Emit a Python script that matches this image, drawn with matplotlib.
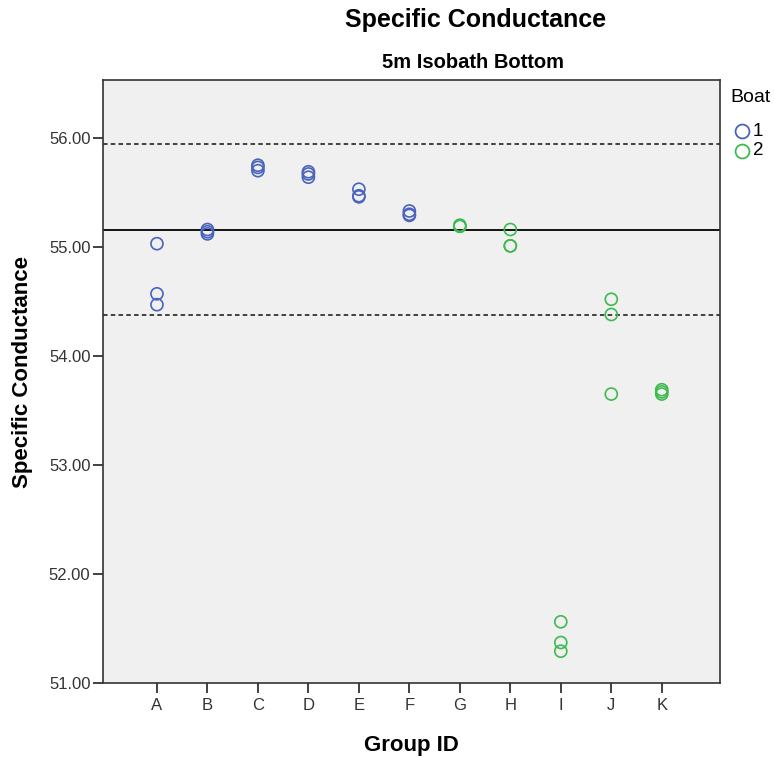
import numpy as np
import matplotlib.pyplot as plt
from matplotlib.lines import Line2D

plt.rcParams['font.family'] = ['Liberation Sans', 'DejaVu Sans']

# Specific conductance readings by sampling group, 5 m isobath bottom
groups = ['A', 'B', 'C', 'D', 'E', 'F', 'G', 'H', 'I', 'J', 'K']
boat = [1, 1, 1, 1, 1, 1, 2, 2, 2, 2, 2]
readings = [
    [55.03, 54.57, 54.47],
    [55.16, 55.14, 55.12],
    [55.75, 55.73, 55.70],
    [55.69, 55.67, 55.64],
    [55.53, 55.47, 55.46],
    [55.33, 55.30, 55.29],
    [55.20, 55.19, 55.19],
    [55.16, 55.01, 55.01],
    [51.56, 51.37, 51.29],
    [54.52, 54.38, 53.65],
    [53.69, 53.67, 53.65],
]
center_line = 55.155
upper_limit = 55.945
lower_limit = 54.375

boat_colors = {1: '#4a63bd', 2: '#3dbb4f'}
yticks = [51, 52, 53, 54, 55, 56]

W, H = 774, 757
fig = plt.figure(figsize=(W / 100, H / 100), dpi=100)
ax = fig.add_axes([0.133, 0.098, 0.797, 0.796])
ax.set_facecolor('#f0f0f0')

for i, (vals, b) in enumerate(zip(readings, boat)):
    ax.scatter([i] * len(vals), vals, s=75, facecolors='none',
               edgecolors=boat_colors[b], linewidths=1.2, zorder=3)

ax.axhline(center_line, color='black', lw=1.3, zorder=2)
ax.axhline(upper_limit, color='#333333', lw=1.3, ls=(0, (2.5, 1.8)), zorder=2)
ax.axhline(lower_limit, color='#333333', lw=1.3, ls=(0, (2.5, 1.8)), zorder=2)

ax.set_xlim(-1.07, 11.15)
ax.set_ylim(51, 56.53)
ax.set_xticks(range(len(groups)))
ax.set_xticklabels(groups)
ax.set_yticks(yticks)
ax.set_yticklabels([f'{v:.2f}' for v in yticks])
ax.tick_params(direction='out', length=7, width=1.3, labelsize=12, pad=2,
               labelcolor='#333333', color='#333333')
ax.tick_params(axis='x', pad=4)
for sp in ax.spines.values():
    sp.set_linewidth(1.2)
    sp.set_color('#333333')

ax.set_xlabel('Group ID', fontsize=16, fontweight='bold', labelpad=16)
ax.set_ylabel('Specific Conductance', fontsize=16, fontweight='bold')
ax.yaxis.set_label_coords(-0.113, 0.516)
fig.text(473 / W, 1 - 62 / H, '5m Isobath Bottom', fontsize=14.5, fontweight='bold',
         ha='center', va='center')
fig.text(476 / W, 1 - 20 / H, 'Specific Conductance', fontsize=18, fontweight='bold',
         ha='center', va='center')

# legend for boat, placed to the right of the plot area
fig.text(730 / W, 1 - 97 / H, 'Boat', fontsize=14, ha='left', va='center')
for k, b in enumerate((1, 2)):
    yk = 1 - (131 + 19.5 * k) / H
    fig.add_artist(Line2D([742 / W], [yk], ls='none', marker='o', markersize=10,
                          markerfacecolor='none', markeredgecolor=boat_colors[b],
                          markeredgewidth=1.3))
    fig.text(753 / W, yk, str(b), fontsize=13.5, ha='left', va='center')

fig.savefig('out.png', dpi=100)
